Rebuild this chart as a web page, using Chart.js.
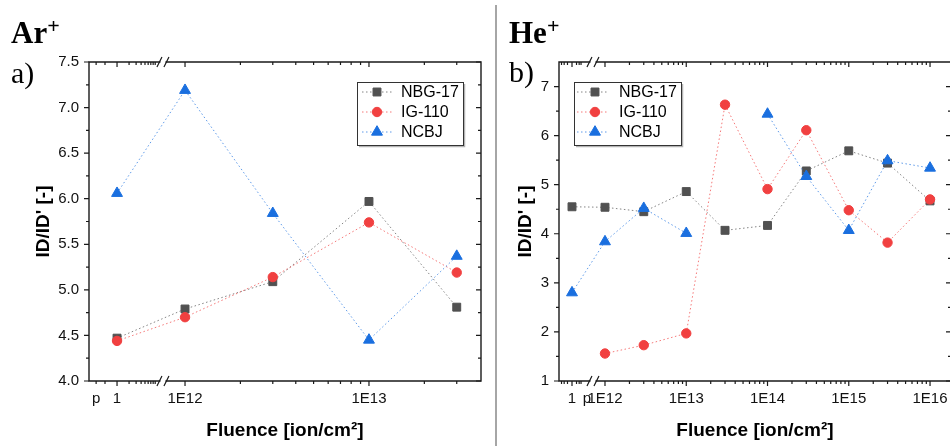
<!DOCTYPE html>
<html>
<head>
<meta charset="utf-8">
<script src="https://cdn.jsdelivr.net/npm/chart.js@4.4.1/dist/chart.umd.min.js"></script>
<style>
  html,body{margin:0;padding:0;background:#fff;}
  body{width:950px;height:446px;overflow:hidden;position:relative;}
  canvas{position:absolute;top:0;}
  #c1{left:0;}
  #c2{left:500px;}
  .ttl{position:absolute;font-family:"Liberation Serif","Times New Roman",serif;font-weight:bold;font-size:31px;line-height:1;color:#000;white-space:nowrap;}
  .ttl .sup{font-size:22px;position:relative;top:-10px;}
  .lab{position:absolute;font-family:"Liberation Serif","Times New Roman",serif;font-size:30px;line-height:1;color:#000;white-space:nowrap;}
  .sep{position:absolute;left:495px;top:5px;width:2px;height:441px;background:#a6a6a6;}
</style>
</head>
<body>
<canvas id="c1" width="490" height="446"></canvas>
<canvas id="c2" width="452" height="446"></canvas>
<div class="sep"></div>
<div class="ttl" style="left:11px;top:17px">Ar<span class="sup">+</span></div>
<div class="lab" style="left:11px;top:58px">a)</div>
<div class="ttl" style="left:509px;top:17px">He<span class="sup">+</span></div>
<div class="lab" style="left:509px;top:57px">b)</div>
<script>
const seriesNames = ['NBG-17', 'IG-110', 'NCBJ'];

// (a) Ar+ irradiation
const arFluence = [1, 1e12, 3e12, 1e13, 3e13];
const arNBG17 = [4.47, 4.79, 5.09, 5.97, 4.81];
const arIG110 = [4.44, 4.70, 5.14, 5.74, 5.19];
const arNCBJ  = [6.06, 7.19, 5.84, 4.45, 5.37];
const arXTickValues = [0.3, 1, 1e12, 1e13];
const arXTickLabels = ['p', '1', '1E12', '1E13'];
const arYTicks = [4.0, 4.5, 5.0, 5.5, 6.0, 6.5, 7.0, 7.5];

// (b) He+ irradiation
const heFluence = [1, 1e12, 3e12, 1e13, 3e13, 1e14, 3e14, 1e15, 3e15, 1e16];
const heNBG17 = [4.55, 4.54, 4.45, 4.86, 4.07, 4.17, 5.28, 5.69, 5.44, 4.67];
const heIG110 = [null, 1.56, 1.73, 1.97, 6.63, 4.91, 6.11, 4.48, 3.82, 4.70];
const heNCBJ  = [2.80, 3.84, 4.52, 4.01, null, 6.44, 5.17, 4.07, 5.49, 5.34];
const heXTickValues = [1, 10, 1e12, 1e13, 1e14, 1e15, 1e16];
const heXTickLabels = ['1', 'p', '1E12', '1E13', '1E14', '1E15', '1E16'];
const heYTicks = [1, 2, 3, 4, 5, 6, 7];

const FONT = '"Liberation Sans", Arial, sans-serif';
const STYLES = [
  {color:'#515151', pointStyle:'rect', radius:5.6, order:3},
  {color:'#F14040', pointStyle:'circle', radius:4.7, order:2},
  {color:'#1A6FDF', pointStyle:'triangle', radius:6.3, order:1}
];

// broken log axis: right segment is log10(fluence); left segment is a compressed log segment
function makeTransform(anchor, segScale) {
  return f => f >= 1e6 ? Math.log10(f) : anchor + segScale * Math.log10(f);
}

const panels = [
  {
    id:'c1', fluence:arFluence, series:[arNBG17, arIG110, arNCBJ],
    xTickValues:arXTickValues, xTickLabels:arXTickLabels, majorLabels:['1','1E12','1E13'],
    yTicks:arYTicks, yMin:4, yMax:7.5, yDigits:1, yMinorStep:0.25,
    tf:makeTransform(11.6304, 40/184), uMin:11.478, uMax:13.609, breakU:11.880,
    segMinor:[0.3, 0.5, 2, 3, 4, 5, 6, 7, 8, 9], decades:[12, 13],
    padding:{left:0, top:62, right:9, bottom:0}, yWidth:89, xHeight:65, yTitlePad:32.4,
    legend:{x:357, y:82, w:106, h:63, line0:362, line1:392, mark:377, text:401, rows:[92,112,132]}
  },
  {
    id:'c2', fluence:heFluence, series:[heNBG17, heIG110, heNCBJ],
    xTickValues:heXTickValues, xTickLabels:heXTickLabels, majorLabels:['1','1E12','1E13','1E14','1E15','1E16'],
    yTicks:heYTicks, yMin:1, yMax:7.5, yDigits:0, yMinorStep:0.5,
    tf:makeTransform(11.594, 15/81.25), uMin:11.434, uMax:16.258, breakU:11.852,
    segMinor:[0.2, 0.3, 0.5, 2, 3, 4], decades:[12, 13, 14, 15, 16],
    padding:{left:0, top:62, right:1, bottom:0}, yWidth:59, xHeight:65, yTitlePad:14.4,
    legend:{x:74, y:82, w:107, h:63, line0:77, line1:108, mark:95, text:119, rows:[92,112,132]}
  }
];

const decor = {
  id:'decor',
  afterDraw(chart, args, o) {
    const P = o.panel; if (!P) return;
    const ctx = chart.ctx, xs = chart.scales.x, ys = chart.scales.y;
    const {left, right, top, bottom} = chart.chartArea;
    ctx.save();
    ctx.strokeStyle = '#1a1a1a';
    ctx.lineWidth = 1.4;
    ctx.beginPath();
    ctx.rect(left, top, right - left, bottom - top);
    ctx.stroke();

    ctx.lineWidth = 1.2;
    ctx.beginPath();
    const xt = (f, len) => {
      const px = xs.getPixelForValue(P.tf(f));
      if (px < left + 1.5 || px > right - 1.5) return;
      ctx.moveTo(px, bottom); ctx.lineTo(px, bottom + len);
      ctx.moveTo(px, top); ctx.lineTo(px, top + len);
    };
    const yt = (v, len) => {
      const py = ys.getPixelForValue(v);
      ctx.moveTo(left - len, py); ctx.lineTo(left, py);
      ctx.moveTo(right - len, py); ctx.lineTo(right, py);
    };
    P.xTickValues.forEach((f, i) => { if (P.majorLabels.includes(P.xTickLabels[i])) xt(f, 5); });
    const bpx = xs.getPixelForValue(P.breakU);
    P.segMinor.forEach(f => { const px = xs.getPixelForValue(P.tf(f)); if (px < bpx - 4) xt(f, 3); });
    P.decades.forEach(n => { for (let m = 2; m <= 9; m++) { const f = m * Math.pow(10, n); if (P.tf(f) < P.uMax) xt(f, 3); } });
    P.yTicks.forEach(v => yt(v, 5));
    for (let v = P.yMin + P.yMinorStep; v < P.yMax; v += P.yMinorStep) {
      if (!P.yTicks.some(t => Math.abs(t - v) < 1e-6)) yt(v, 3);
    }
    ctx.stroke();

    // axis breaks
    [top, bottom].forEach(y => {
      ctx.fillStyle = '#fff';
      ctx.fillRect(bpx - 2.5, y - 1.5, 5, 3);
      ctx.beginPath();
      ctx.lineWidth = 1.2;
      ctx.moveTo(bpx - 6, y + 5); ctx.lineTo(bpx - 1, y - 5);
      ctx.moveTo(bpx + 1, y + 5); ctx.lineTo(bpx + 6, y - 5);
      ctx.stroke();
    });

    // legend
    const L = P.legend;
    ctx.fillStyle = '#fff'; ctx.fillRect(L.x, L.y, L.w, L.h);
    ctx.strokeStyle = '#b4b4b4'; ctx.lineWidth = 1.5;
    ctx.beginPath();
    ctx.moveTo(L.x + L.w + 1.5, L.y + 2); ctx.lineTo(L.x + L.w + 1.5, L.y + L.h + 1.5); ctx.lineTo(L.x + 2, L.y + L.h + 1.5);
    ctx.stroke();
    ctx.strokeStyle = '#333'; ctx.lineWidth = 1;
    ctx.strokeRect(L.x + 0.5, L.y + 0.5, L.w, L.h);
    chart.data.datasets.forEach((ds, i) => {
      const y = L.rows[i];
      ctx.save();
      ctx.strokeStyle = ds.borderColor; ctx.lineWidth = ds.borderWidth; ctx.setLineDash(ds.borderDash);
      ctx.beginPath(); ctx.moveTo(L.line0, y); ctx.lineTo(L.line1, y); ctx.stroke();
      ctx.restore();
      ctx.fillStyle = ds.pointBackgroundColor; ctx.strokeStyle = ds.pointBorderColor; ctx.lineWidth = ds.pointBorderWidth;
      Chart.helpers.drawPoint(ctx, {pointStyle: ds.pointStyle, radius: ds.pointRadius, borderWidth: ds.pointBorderWidth, rotation: 0}, L.mark, y);
      ctx.fillStyle = '#000'; ctx.font = '16px ' + FONT; ctx.textBaseline = 'middle'; ctx.textAlign = 'left';
      ctx.fillText(ds.label, L.text, y + 1);
    });
    ctx.restore();
  }
};

panels.forEach(P => {
  new Chart(document.getElementById(P.id), {
    type:'line',
    data:{
      datasets:P.series.map((vals, i) => ({
        label:seriesNames[i],
        data:P.fluence.map((f, j) => ({x:P.tf(f), y:vals[j]})),
        order:STYLES[i].order,
        borderColor:STYLES[i].color + 'b3',
        borderWidth:1,
        borderDash:[1.5, 2.5],
        pointStyle:STYLES[i].pointStyle,
        pointRadius:STYLES[i].radius,
        pointHoverRadius:STYLES[i].radius,
        pointBackgroundColor:STYLES[i].color,
        pointBorderColor:STYLES[i].color,
        pointBorderWidth:1,
        spanGaps:false, fill:false, tension:0
      }))
    },
    options:{
      responsive:false, animation:false, devicePixelRatio:1,
      layout:{padding:P.padding, autoPadding:false},
      plugins:{legend:{display:false}, tooltip:{enabled:false}, decor:{panel:P}},
      scales:{
        x:{
          type:'linear', min:P.uMin, max:P.uMax, bounds:'data',
          afterBuildTicks:s => { s.ticks = P.xTickValues.map(f => ({value:P.tf(f)})); },
          ticks:{callback:(v, i) => P.xTickLabels[i], autoSkip:false, maxRotation:0, minRotation:0, padding:9, color:'#111', font:{family:FONT, size:15}},
          grid:{display:false, drawTicks:false},
          border:{display:false},
          title:{display:true, text:'Fluence [ion/cm²]', color:'#000', font:{family:FONT, size:19, weight:'bold'}, padding:{top:0, bottom:4}},
          afterFit:s => { s.height = P.xHeight; s.paddingLeft = 0; s.paddingRight = 0; }
        },
        y:{
          type:'linear', min:P.yMin, max:P.yMax, bounds:'data',
          afterBuildTicks:s => { s.ticks = P.yTicks.map(v => ({value:v})); },
          ticks:{callback:v => Number(v).toFixed(P.yDigits), padding:10, color:'#111', font:{family:FONT, size:15}},
          grid:{display:false, drawTicks:false},
          border:{display:false},
          title:{display:true, text:"ID/ID' [-]", color:'#000', font:{family:FONT, size:19, weight:'bold'}, padding:{top:P.yTitlePad, bottom:0}},
          afterFit:s => { s.width = P.yWidth; s.paddingTop = 0; s.paddingBottom = 0; }
        }
      }
    },
    plugins:[decor]
  });
});
</script>
</body>
</html>
